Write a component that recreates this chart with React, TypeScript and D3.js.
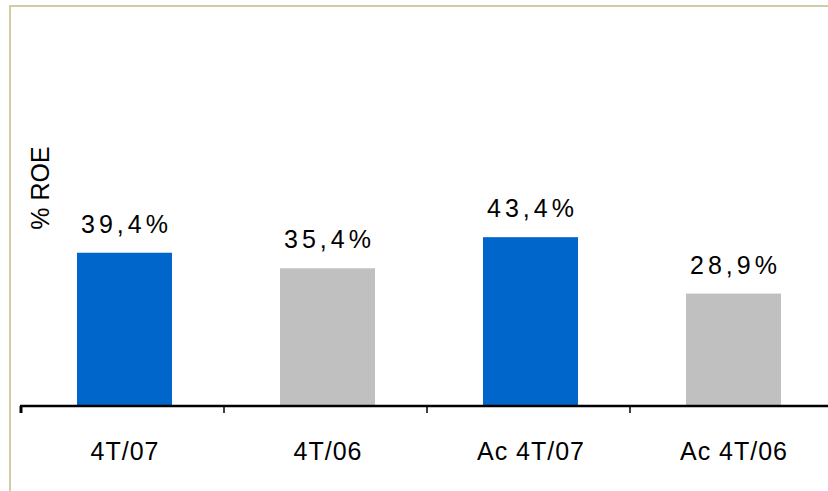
import React from "react";
import * as d3 from "d3";

const categories = ["4T/07", "4T/06", "Ac 4T/07", "Ac 4T/06"];
const values = [39.4, 35.4, 43.4, 28.9];
const valueLabels = ["39,4%", "35,4%", "43,4%", "28,9%"];
const barColors = ["#0066CC", "#C0C0C0", "#0066CC", "#C0C0C0"];
const yAxisTitle = "% ROE";

export default function App() {
  const W = 828;
  const H = 491;
  const baseY = 406;
  const x = d3.scaleBand<string>().domain(categories).range([23, 835]).paddingInner(0.532).paddingOuter(0.266);
  const y = d3.scaleLinear().domain([0, 100]).range([baseY, baseY - 389]);
  const step = x.step();
  const tickXs = d3.range(categories.length + 1).map((i) => 21 + i * step);
  const font = "'Liberation Sans', Arial, sans-serif";
  return (
    <svg
      width={W}
      height={H}
      style={{ position: "absolute", left: 0, top: 0, background: "#fff" }}
      fontFamily={font}
    >
      <rect x={0} y={0} width={W} height={H} fill="#fff" />
      <line x1={10} y1={6} x2={W} y2={6} stroke="#D3CBA5" strokeWidth={2} />
      <line x1={10} y1={5} x2={10} y2={H} stroke="#D3CBA5" strokeWidth={2} />
      {categories.map((c, i) => (
        <rect
          key={c}
          x={x(c)}
          y={y(values[i])}
          width={x.bandwidth()}
          height={baseY - y(values[i])}
          fill={barColors[i]}
        />
      ))}
      <line x1={20} y1={baseY} x2={W} y2={baseY} stroke="#000" strokeWidth={2.5} />
      {tickXs.map((tx, i) => (
        <line key={i} x1={tx} y1={baseY} x2={tx} y2={baseY + 7} stroke="#000" strokeWidth={i === 0 ? 3 : 1.5} />
      ))}
      {categories.map((c, i) => (
        <text
          key={"v" + c}
          x={(x(c) as number) + x.bandwidth() / 2 + 2}
          y={y(values[i]) - 20}
          textAnchor="middle"
          fontSize={25}
          letterSpacing={4}
          fill="#000"
        >
          {valueLabels[i]}
        </text>
      ))}
      {categories.map((c) => (
        <text
          key={"c" + c}
          x={(x(c) as number) + x.bandwidth() / 2 + 0.5}
          y={460}
          textAnchor="middle"
          fontSize={25}
          letterSpacing={1}
          fill="#000"
        >
          {c}
        </text>
      ))}
      <text
        transform={`translate(49,188) rotate(-90)`}
        textAnchor="middle"
        fontSize={25}
        fill="#000"
      >
        {yAxisTitle}
      </text>
    </svg>
  );
}
